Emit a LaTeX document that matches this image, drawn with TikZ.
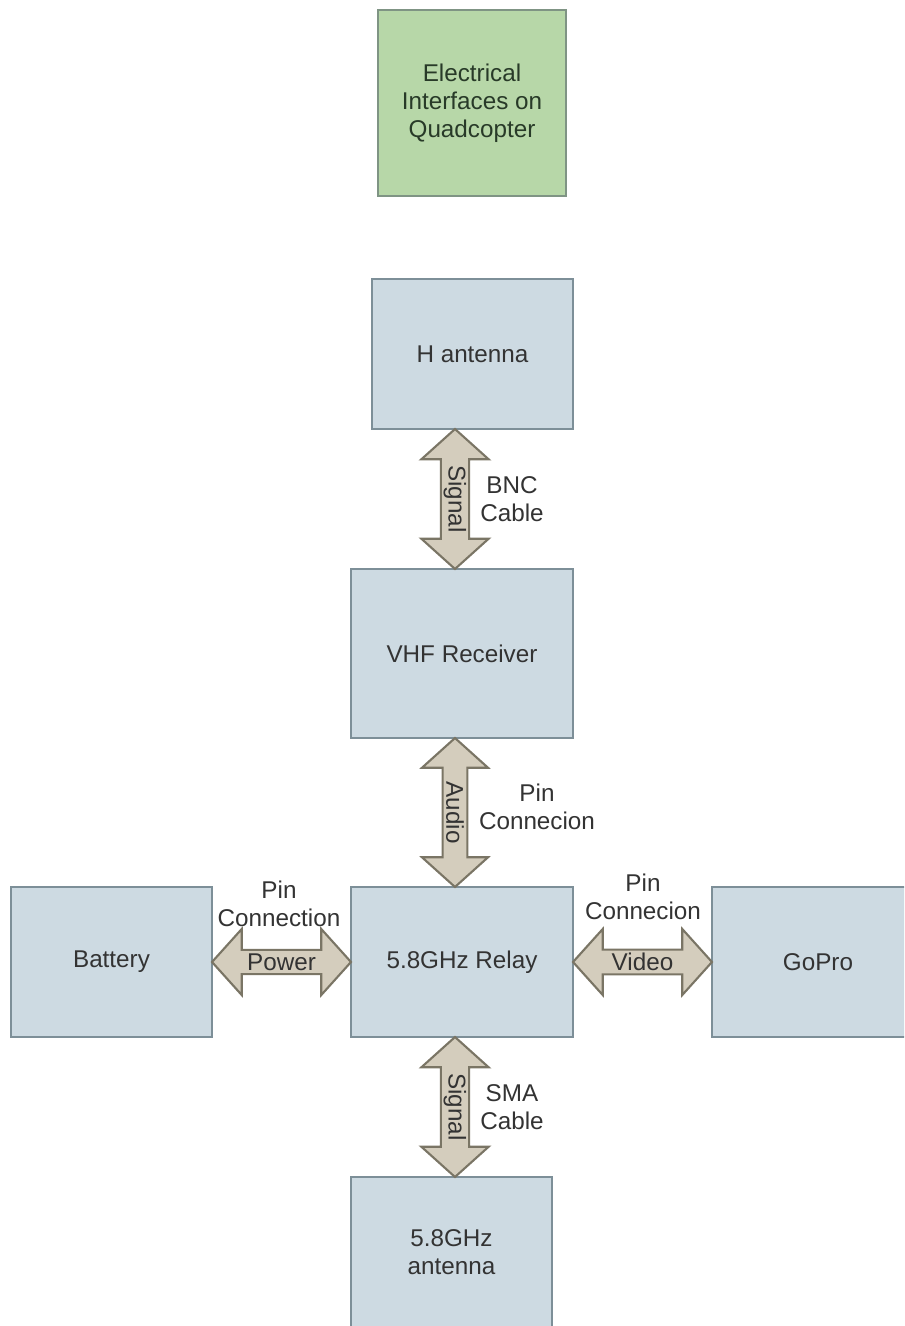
\documentclass[tikz,border=0pt]{standalone}
\usepackage{fontspec}
\setmainfont{Liberation Sans}
\usetikzlibrary{shapes.arrows}
\begin{document}
\begin{tikzpicture}[x=0.02cm,y=-0.02cm]
  \definecolor{boxfill}{RGB}{205,218,226}
  \definecolor{boxline}{RGB}{125,143,152}
  \definecolor{titlefill}{RGB}{183,215,168}
  \definecolor{titleline}{RGB}{127,148,132}
  \definecolor{titletxt}{RGB}{40,58,40}
  \definecolor{linkfill}{RGB}{212,205,189}
  \definecolor{linkline}{RGB}{122,117,101}
  \definecolor{txt}{RGB}{51,51,51}
  \tikzset{
    unit/.style={draw=boxline,fill=boxfill,line width=1.5pt,text=txt,align=center,
      minimum width=4.02cm,minimum height=3cm,inner sep=0pt,
      font=\fontsize{13.8}{15.9}\selectfont},
    link/.style={shape=double arrow,draw=linkline,fill=linkfill,line width=1.2pt,text=txt,
      minimum width=1.32cm,double arrow head extend=0.39cm,double arrow tip angle=96,
      inner xsep=0pt,inner ysep=1pt,font=\fontsize{13.8}{15.9}\selectfont},
    note/.style={text=txt,align=center,inner sep=0pt,
      font=\fontsize{13.8}{15.9}\selectfont},
  }
  \clip (0,0) rectangle (904,1326);
  \fill[white] (0,0) rectangle (904,1326);
  % blocks
  \node[unit,fill=titlefill,draw=titleline,text=titletxt,minimum width=3.76cm,minimum height=3.72cm] (title) at (472,103) {Electrical\\Interfaces on\\Quadcopter};
  \node[unit] (hant) at (472.5,354) {H antenna};
  \node[unit,minimum width=4.44cm,minimum height=3.38cm] (vhf) at (462,653.5) {VHF Receiver};
  \node[unit,minimum width=4.44cm] (relay) at (462,962) {5.8GHz Relay};
  \node[unit] (batt) at (111.5,962) {Battery};
  \node[unit,minimum width=4.24cm] (gopro) at (818,962) {GoPro};
  \node[unit] (ant) at (451.5,1252) {5.8GHz\\antenna};
  % links
  \node[link,rotate=-90,minimum height=2.8cm] (sigA) at (455,499) {Signal};
  \node[link,rotate=-90,minimum height=2.98cm] (audio) at (455,812.5) {Audio};
  \node[link,minimum height=2.78cm] (power) at (281.5,962) {Power};
  \node[link,minimum height=2.78cm] (video) at (642.5,962) {Video};
  \node[link,rotate=-90,minimum height=2.8cm] (sigB) at (455,1107) {Signal};
  % link notes
  \node[note] (bnc) at (512,499) {BNC\\Cable};
  \node[note] (pinA) at (537,807) {Pin\\Connecion};
  \node[note] (pinB) at (279,904) {Pin\\Connection};
  \node[note] (pinC) at (643,897) {Pin\\Connecion};
  \node[note] (sma) at (512,1107) {SMA\\Cable};
\end{tikzpicture}
\end{document}
